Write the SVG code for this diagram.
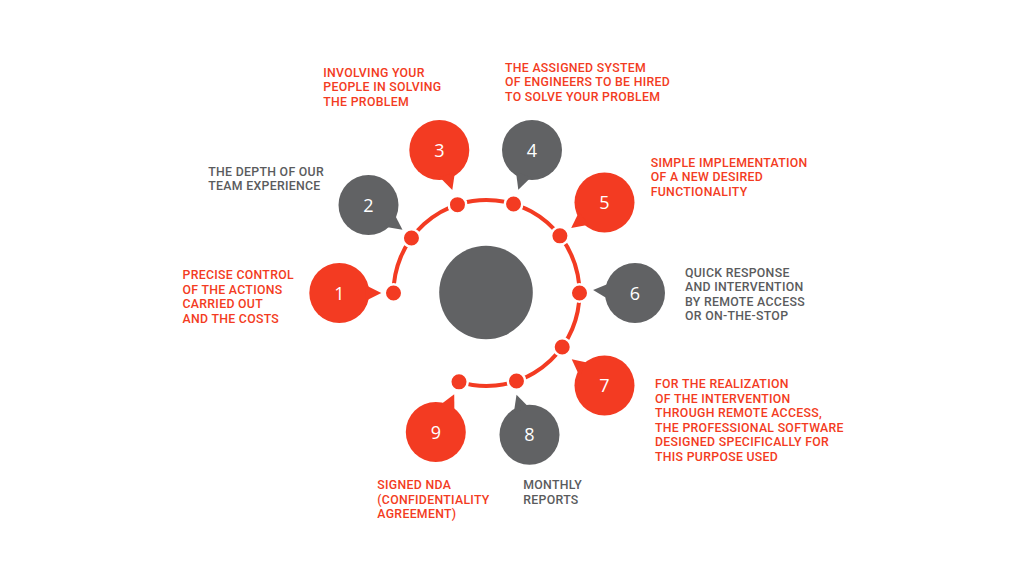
<svg xmlns="http://www.w3.org/2000/svg" xmlns:xlink="http://www.w3.org/1999/xlink" width="1024" height="576" viewBox="0 0 1024 576">
<style>
.red{fill:#F33B22}
.gray{fill:#616264}
.num{font-family:'Open Sans','Liberation Sans',sans-serif;font-size:18px;fill:#ffffff;text-anchor:middle}
.lbl{font-family:Roboto,'Liberation Sans',sans-serif;font-weight:500;font-size:12.3px;letter-spacing:0.3px}
.lr{fill:#F33B22}
.lg{fill:#5A5B5D}
.arc{fill:none;stroke:#F33B22;stroke-width:4}
.dot{fill:#F33B22;stroke:#ffffff;stroke-width:2.5}
</style>
<defs>
<path id="tail" d="M26,-8 L42,0 L26,8 Z"/>
</defs>
<rect width="1024" height="576" fill="#ffffff"/>
<g id="center">
<circle class="gray" cx="486" cy="292.5" r="46.8"/>
</g>
<g id="connectors">
<path class="arc" d="M393.5,293 A93,93 0 1 1 459,381.84"/>
<circle class="dot" cx="393.5" cy="293" r="8.75"/>
<circle class="dot" cx="411.45" cy="238.07" r="8.75"/>
<circle class="dot" cx="457.46" cy="204.65" r="8.75"/>
<circle class="dot" cx="513.54" cy="204.02" r="8.75"/>
<circle class="dot" cx="559.89" cy="235.87" r="8.75"/>
<circle class="dot" cx="579.5" cy="293" r="8.75"/>
<circle class="dot" cx="562.21" cy="347" r="8.75"/>
<circle class="dot" cx="516.47" cy="381.03" r="8.75"/>
<circle class="dot" cx="459" cy="381.84" r="8.75"/>
</g>
<g id="node-1">
<g class="red" transform="translate(339.3,293)"><circle r="30"/><use xlink:href="#tail" href="#tail"/><text class="num" y="6.5">1</text></g>
<text class="lbl lr" x="182.5" y="279"><tspan x="182.5">PRECISE CONTROL</tspan><tspan x="182.5" dy="14.5">OF THE ACTIONS</tspan><tspan x="182.5" dy="14.5">CARRIED OUT</tspan><tspan x="182.5" dy="14.5">AND THE COSTS</tspan></text>
</g>
<g id="node-2">
<g class="gray" transform="translate(368.5,205)"><circle r="30"/><use xlink:href="#tail" href="#tail" transform="rotate(36)"/><text class="num" y="6.5">2</text></g>
<text class="lbl lg" x="208.3" y="175.7"><tspan x="208.3">THE DEPTH OF OUR</tspan><tspan x="208.3" dy="14.5">TEAM EXPERIENCE</tspan></text>
</g>
<g id="node-3">
<g class="red" transform="translate(439.3,150)"><circle r="30"/><use xlink:href="#tail" href="#tail" transform="rotate(72)"/><text class="num" y="6.5">3</text></g>
<text class="lbl lr" x="323.3" y="76.7"><tspan x="323.3">INVOLVING YOUR</tspan><tspan x="323.3" dy="14.5">PEOPLE IN SOLVING</tspan><tspan x="323.3" dy="14.5">THE PROBLEM</tspan></text>
</g>
<g id="node-4">
<g class="gray" transform="translate(532,150)"><circle r="30"/><use xlink:href="#tail" href="#tail" transform="rotate(109)"/><text class="num" y="6.5">4</text></g>
<text class="lbl lr" x="505" y="71.7"><tspan x="505">THE ASSIGNED SYSTEM</tspan><tspan x="505" dy="14.5">OF ENGINEERS TO BE HIRED</tspan><tspan x="505" dy="14.5">TO SOLVE YOUR PROBLEM</tspan></text>
</g>
<g id="node-5">
<g class="red" transform="translate(604.5,202.5)"><circle r="30"/><use xlink:href="#tail" href="#tail" transform="rotate(142.5)"/><text class="num" y="6.5">5</text></g>
<text class="lbl lr" x="650.7" y="166.7"><tspan x="650.7">SIMPLE IMPLEMENTATION</tspan><tspan x="650.7" dy="14.5">OF A NEW DESIRED</tspan><tspan x="650.7" dy="14.5">FUNCTIONALITY</tspan></text>
</g>
<g id="node-6">
<g class="gray" transform="translate(635,293)"><circle r="30"/><use xlink:href="#tail" href="#tail" transform="rotate(184)"/><text class="num" y="6.5">6</text></g>
<text class="lbl lg" x="685" y="276.5"><tspan x="685">QUICK RESPONSE</tspan><tspan x="685" dy="14.5">AND INTERVENTION</tspan><tspan x="685" dy="14.5">BY REMOTE ACCESS</tspan><tspan x="685" dy="14.5">OR ON-THE-STOP</tspan></text>
</g>
<g id="node-7">
<g class="red" transform="translate(604.5,385.5)"><circle r="30"/><use xlink:href="#tail" href="#tail" transform="rotate(218.7)"/><text class="num" y="6.5">7</text></g>
<text class="lbl lr" x="655" y="388.3"><tspan x="655">FOR THE REALIZATION</tspan><tspan x="655" dy="14.5">OF THE INTERVENTION</tspan><tspan x="655" dy="14.5">THROUGH REMOTE ACCESS,</tspan><tspan x="655" dy="14.5">THE PROFESSIONAL SOFTWARE</tspan><tspan x="655" dy="14.5">DESIGNED SPECIFICALLY FOR</tspan><tspan x="655" dy="14.5">THIS PURPOSE USED</tspan></text>
</g>
<g id="node-8">
<g class="gray" transform="translate(529.5,434.7)"><circle r="30"/><use xlink:href="#tail" href="#tail" transform="rotate(252)"/><text class="num" y="6.5">8</text></g>
<text class="lbl lg" x="523.3" y="489.3"><tspan x="523.3">MONTHLY</tspan><tspan x="523.3" dy="14.5">REPORTS</tspan></text>
</g>
<g id="node-9">
<g class="red" transform="translate(435.8,432)"><circle r="30"/><use xlink:href="#tail" href="#tail" transform="rotate(296)"/><text class="num" y="6.5">9</text></g>
<text class="lbl lr" x="377.3" y="489.3"><tspan x="377.3">SIGNED NDA</tspan><tspan x="377.3" dy="14.5">(CONFIDENTIALITY</tspan><tspan x="377.3" dy="14.5">AGREEMENT)</tspan></text>
</g>
</svg>
